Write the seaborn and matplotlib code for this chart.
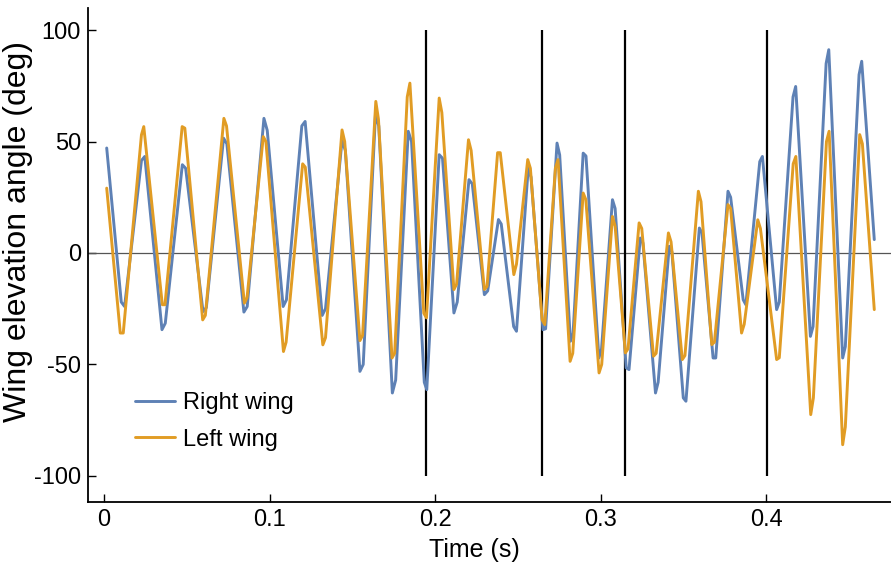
import numpy as np
import pandas as pd
import matplotlib
matplotlib.use("Agg")
import matplotlib.pyplot as plt
import seaborn as sns

# Wing elevation traces (time in s, angle in deg); each stroke reversal is
# sampled by the two frames around it
right_time = [0.0016,
              0.0104, 0.0124, 0.0226, 0.0246, 0.0350, 0.0370, 0.0473, 0.0493,
              0.0598, 0.0618, 0.0722, 0.0742, 0.0845, 0.0865, 0.0966, 0.0986,
              0.1082, 0.1102, 0.1195, 0.1215, 0.1318, 0.1338, 0.1438, 0.1458,
              0.1546, 0.1566, 0.1640, 0.1660, 0.1742, 0.1762, 0.1838, 0.1858,
              0.1935, 0.1950, 0.2025, 0.2045, 0.2114, 0.2134, 0.2205, 0.2225,
              0.2298, 0.2318, 0.2383, 0.2400, 0.2475, 0.2492, 0.2563, 0.2580,
              0.2652, 0.2668, 0.2737, 0.2753, 0.2818, 0.2834, 0.2895, 0.2912,
              0.2990, 0.3006, 0.3072, 0.3088, 0.3155, 0.3172, 0.3240, 0.3256,
              0.3332, 0.3348, 0.3415, 0.3431, 0.3500, 0.3516, 0.3597, 0.3613,
              0.3680, 0.3696, 0.3770, 0.3786, 0.3862, 0.3878, 0.3962, 0.3978,
              0.4064, 0.4080, 0.4163, 0.4179, 0.4268, 0.4284, 0.4363, 0.4379,
              0.4463, 0.4479, 0.4562, 0.4578,
              0.4654]
right_angle = [47.1,
               -22.0, -24.0, 41.5, 43.3, -34.4, -31.5, 39.6, 38.0,
               -26.3, -24.5, 51.5, 49.0, -26.5, -24.0, 60.4, 55.0,
               -24.0, -21.0, 57.0, 59.0, -28.0, -25.0, 50.5, 46.0,
               -53.1, -50.0, 62.0, 57.0, -62.8, -57.0, 54.6, 50.0,
               -58.0, -61.3, 44.1, 42.5, -26.9, -22.0, 32.9, 31.0,
               -18.7, -17.0, 15.0, 13.0, -33.0, -35.1, 38.1, 34.0,
               -34.4, -34.0, 49.3, 44.0, -39.6, -36.0, 44.8, 43.5,
               -47.1, -43.0, 23.9, 20.0, -51.5, -52.3, 6.7, 4.5,
               -62.8, -58.0, 3.0, 0.5, -65.0, -66.5, 11.2, 9.0,
               -47.1, -47.1, 27.7, 25.0, -21.0, -23.2, 41.0, 43.3,
               -25.4, -22.0, 70.0, 74.7, -37.4, -33.0, 85.0, 91.2,
               -47.1, -42.0, 80.0, 86.0,
               6.0]

left_time = [0.0016,
             0.0098, 0.0116, 0.0226, 0.0240, 0.0352, 0.0368, 0.0472, 0.0488,
             0.0596, 0.0612, 0.0724, 0.0740, 0.0848, 0.0864, 0.0962, 0.0978,
             0.1084, 0.1100, 0.1200, 0.1216, 0.1322, 0.1338, 0.1438, 0.1454,
             0.1546, 0.1562, 0.1642, 0.1658, 0.1740, 0.1756, 0.1832, 0.1848,
             0.1932, 0.1948, 0.2025, 0.2041, 0.2114, 0.2130, 0.2202, 0.2218,
             0.2298, 0.2314, 0.2378, 0.2394, 0.2476, 0.2492, 0.2560, 0.2576,
             0.2647, 0.2663, 0.2727, 0.2743, 0.2816, 0.2832, 0.2895, 0.2911,
             0.2991, 0.3007, 0.3072, 0.3088, 0.3150, 0.3166, 0.3233, 0.3249,
             0.3320, 0.3336, 0.3410, 0.3426, 0.3494, 0.3510, 0.3591, 0.3607,
             0.3672, 0.3688, 0.3770, 0.3786, 0.3852, 0.3868, 0.3950, 0.3966,
             0.4064, 0.4080, 0.4164, 0.4180, 0.4270, 0.4286, 0.4365, 0.4381,
             0.4463, 0.4479, 0.4566, 0.4582,
             0.4654]
left_angle = [29.1,
              -35.9, -35.9, 53.0, 56.7, -23.2, -23.2, 56.7, 56.0,
              -30.0, -28.0, 60.4, 57.0, -22.5, -20.0, 52.2, 50.0,
              -44.2, -40.0, 40.0, 38.5, -41.2, -38.0, 55.2, 50.0,
              -39.3, -37.0, 68.0, 60.0, -47.1, -45.0, 70.0, 76.2,
              -27.0, -29.1, 69.5, 63.0, -16.4, -14.0, 50.8, 46.0,
              -16.4, -15.0, 45.0, 45.0, -9.7, -5.0, 41.9, 38.0,
              -30.0, -32.1, 38.0, 41.9, -48.6, -45.0, 26.9, 24.0,
              -53.8, -50.0, 16.4, 12.0, -44.8, -43.0, 13.5, 11.0,
              -46.3, -45.0, 9.0, 5.0, -47.8, -46.0, 27.7, 23.0,
              -41.1, -40.0, 21.7, 20.0, -35.9, -32.0, 14.9, 11.0,
              -47.8, -47.0, 40.0, 43.3, -72.5, -65.0, 50.0, 54.6,
              -86.0, -78.0, 53.1, 49.0,
              -25.4]

# Event markers
event_times = [0.1946, 0.2647, 0.3148, 0.4006]

wing_labels = ["Right wing", "Left wing"]
wing_colors = ["#5E81B5", "#E19C24"]

x_ticks = [0, 0.1, 0.2, 0.3, 0.4]
x_tick_labels = ["0", "0.1", "0.2", "0.3", "0.4"]
y_ticks = [-100, -50, 0, 50, 100]
y_tick_labels = ["-100", "-50", "0", "50", "100"]

df = pd.concat([
    pd.DataFrame({"time": right_time, "angle": right_angle, "wing": wing_labels[0]}),
    pd.DataFrame({"time": left_time, "angle": left_angle, "wing": wing_labels[1]}),
], ignore_index=True)

sns.set_theme(style="ticks")
plt.rcParams["font.family"] = ["Liberation Sans", "DejaVu Sans"]
plt.rcParams["text.color"] = "black"
plt.rcParams["axes.labelcolor"] = "black"

fig = plt.figure(figsize=(8.91, 5.72), dpi=100)
ax = fig.add_axes([88 / 891, 1 - 502 / 572, 803 / 891, 494 / 572])

ax.axhline(0, color="#555555", lw=0.9, zorder=1)
ax.vlines(event_times, -100, 100, color="black", lw=1.6, zorder=1)

sns.lineplot(data=df, x="time", y="angle", hue="wing",
             palette=dict(zip(wing_labels, wing_colors)),
             linewidth=2.1, ax=ax, sort=False, zorder=3)

ax.set_xlim(-0.0097, 0.4755)
ax.set_ylim(-111.7, 109.9)
ax.set_xticks(x_ticks)
ax.set_xticklabels(x_tick_labels)
ax.set_yticks(y_ticks)
ax.set_yticklabels(y_tick_labels)
ax.set_xlabel("Time (s)", fontsize=18)
ax.set_ylabel("Wing elevation angle (deg)", fontsize=23)
ax.xaxis.set_label_coords((474 - 88) / 803, (502 - 550) / 494)
ax.yaxis.set_label_coords((18 - 88) / 803, (502 - 232) / 494)
ax.xaxis.label.set_va("center")
ax.yaxis.label.set_va("center")
ax.tick_params(direction="in", length=6, width=1.0, labelsize=17, colors="black", pad=5)

for side in ["top", "right"]:
    ax.spines[side].set_visible(False)
for side in ["left", "bottom"]:
    ax.spines[side].set_linewidth(1.3)
    ax.spines[side].set_color("black")

leg = ax.legend(loc="upper left", bbox_to_anchor=((135 - 88) / 803, (502 - 392) / 494),
                frameon=False, fontsize=17, handlelength=1.7, handletextpad=0.35,
                labelspacing=0.62, borderpad=0, borderaxespad=0, title=None)
for line in leg.get_lines():
    line.set_linewidth(2.1)

fig.savefig("out.png", dpi=100)
